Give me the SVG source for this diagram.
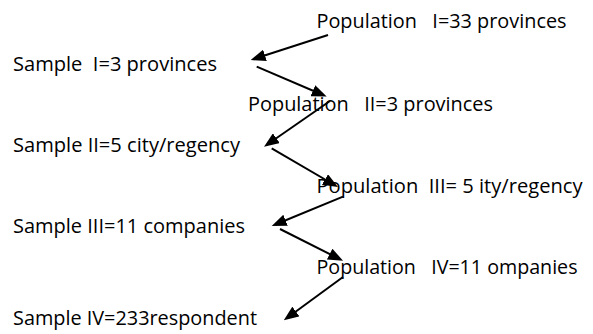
<svg xmlns="http://www.w3.org/2000/svg" width="593" height="334" viewBox="0 0 593 334">
<style>
text{font-family:"Open Sans","Noto Sans","Liberation Sans",sans-serif;font-size:20px;fill:#000;white-space:pre}
.c line{stroke:#000;stroke-width:2;marker-end:url(#ah)}
</style>
<defs>
<marker id="ah" viewBox="0 0 15 12" refX="11" refY="6" markerWidth="15" markerHeight="12" markerUnits="userSpaceOnUse" orient="auto">
<path d="M0,0 L15,6 L0,12 Z" fill="#000"/>
</marker>
</defs>
<rect width="593" height="334" fill="#fff"/>
<g id="pop1"><text x="316.5" y="28" textLength="250" lengthAdjust="spacingAndGlyphs" xml:space="preserve">Population   I=33 provinces</text></g>
<g id="sample1"><text x="13" y="71" textLength="204" lengthAdjust="spacingAndGlyphs" xml:space="preserve">Sample  I=3 provinces</text></g>
<g id="pop2"><text x="248" y="111" textLength="245" lengthAdjust="spacingAndGlyphs" xml:space="preserve">Population   II=3 provinces</text></g>
<g id="sample2"><text x="13" y="152" textLength="227" lengthAdjust="spacingAndGlyphs">Sample II=5 city/regency</text></g>
<g id="pop3"><text x="316.5" y="193" textLength="266" lengthAdjust="spacingAndGlyphs" xml:space="preserve">Population  III= 5 ity/regency</text></g>
<g id="sample3"><text x="13" y="233" textLength="232" lengthAdjust="spacingAndGlyphs">Sample III=11 companies</text></g>
<g id="pop4"><text x="316.5" y="274" textLength="261" lengthAdjust="spacingAndGlyphs" xml:space="preserve">Population   IV=11 ompanies</text></g>
<g id="sample4"><text x="13" y="325" textLength="244" lengthAdjust="spacingAndGlyphs">Sample IV=233respondent</text></g>
<g id="connectors" class="c">
<line x1="328" y1="35" x2="254.5" y2="58.8"/>
<line x1="256.7" y1="66.7" x2="323" y2="95"/>
<line x1="330" y1="101" x2="267.3" y2="144.5"/>
<line x1="271.7" y1="148.3" x2="334.5" y2="185"/>
<line x1="343" y1="196.7" x2="275.4" y2="224.5"/>
<line x1="280" y1="229" x2="339.5" y2="259"/>
<line x1="343" y1="277" x2="287" y2="318"/>
</g>
</svg>
